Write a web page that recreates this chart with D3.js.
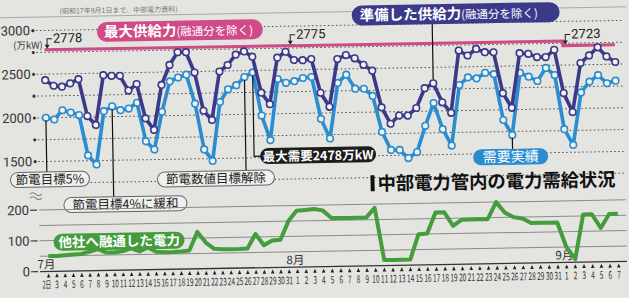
<!DOCTYPE html>
<html>
<head>
<meta charset="utf-8">
<script src="https://cdn.jsdelivr.net/npm/d3@7"></script>
<style>
  body { margin: 0; background: #e4e4e1; }
  svg { display: block; font-family: "Noto Sans CJK JP", "Noto Sans", sans-serif; }
</style>
</head>
<body>
<div id="chart"></div>
<script>
// 7/2 - 9/7 (daily)
var dayLabels = ['2日','3','4','5','6','7','8','9','10','11','12','13','14','15','16','17','18','19','20','21','22','23','24','25','26','27','28','29','30','31',
                 '1','2','3','4','5','6','7','8','9','10','11','12','13','14','15','16','17','18','19','20','21','22','23','24','25','26','27','28','29','30','31',
                 '1','2','3','4','5','6','7'];
var monthLabels = ['7月', '8月', '9月'];
var monthStart = [0, 30, 61];

// 準備した供給力 (融通分を除く), 万kW
var preparedSupply = [2431,2365,2353,2389,2436,2011,1908,2476,2467,2466,2295,2368,1973,1840,2353,2580,2724,2723,2488,2049,1942,2495,2568,2685,
                      2720,2658,2244,2111,2642,2708,2612,2608,2620,2232,2069,2615,2658,2619,2543,2474,2052,1863,1955,1953,2038,
                      2263,2317,2098,1976,2687,2629,2702,2663,2661,2191,2021,2645,2636,2597,2595,2676,2179,1960,2520,2605,2697,2590,2525];
// 需要実績, 万kW
var demand = [2000,1979,2083,2055,2024,1561,1455,2064,2118,2072,2089,2154,1711,1615,2045,2392,2435,2465,2132,1606,1473,2146,2290,2335,
              2427,2478,1982,1699,2398,2352,2369,2404,2414,1932,1706,2341,2434,2271,2269,2185,1771,1563,1561,1466,1533,
              1832,2092,1790,1601,2293,2378,2365,2427,2410,1883,1709,2420,2374,2323,2471,2387,1766,1584,2183,2305,2378,2283,2311];
// 最大供給力 (融通分を除く): value and first day index of each period
var maxSupply = [2778, 2775, 2723];
var maxSupplyFrom = [0, 30, 61];
// 他社へ融通した電力, 万kW
var interchange = [50,50,52,54,55,62,70,58,58,62,70,60,72,58,56,56,57,60,120,85,
                   64,62,62,62,63,110,73,88,90,150,183,185,188,183,158,157,157,157,157,188,
                   18,18,18,18,100,102,170,170,125,145,145,145,145,200,165,150,145,130,130,130,130,50,10,155,155,110,155,155];

var topTicks = [3000, 2500, 2000, 1500];
var topGrid = [3000, 2750, 2500, 2250, 2000, 1750, 1500, 1250];
var bottomTicks = [200, 100, 0];
var bottomGrid = [200, 150, 100, 50];

var W = 629, H = 298;
var cDark = '#3b3a8a', cLight = '#2b8dd0', cPink = '#cf4a86', cGreen = '#449c3c';

var xScale = d3.scaleLinear().domain([0, 30, 67]).range([46.5, 295.5, 616.7]);
var yTop = d3.scaleLinear().domain([1500, 3000]).range([156.5, 25.5]);
var yBot = d3.scaleLinear().domain([0, 200]).range([266.5, 205]);

var svg = d3.select('#chart').append('svg').attr('width', W).attr('height', H);
svg.append('rect').attr('width', W).attr('height', H).attr('fill', '#e4e4e1');

// the original is a slightly tilted photo of a newspaper graphic
var g = svg.append('g').attr('transform', 'rotate(-1,330,150)');

// header rule and source note
g.append('line').attr('x1', 0).attr('x2', W).attr('y1', 12).attr('y2', 12).attr('stroke', '#999').attr('stroke-width', 0.8);
g.append('text').attr('x', 62).attr('y', 9).attr('font-size', 7).attr('fill', '#777').text('(昭和17年9月1日まで、中部電力資料)');

// ---- upper panel grid ----
g.selectAll('.tgrid').data(topGrid).join('line')
  .attr('x1', 38).attr('x2', 625)
  .attr('y1', d => yTop(d)).attr('y2', d => yTop(d))
  .attr('stroke', '#555').attr('stroke-width', 1).attr('stroke-dasharray', '1.6,2.4');
g.selectAll('.tdot').data(topGrid.slice(0, 7)).join('circle')
  .attr('cx', 35).attr('cy', d => yTop(d)).attr('r', 1.6).attr('fill', '#333');
g.selectAll('.tlab').data(topTicks).join('text')
  .attr('x', 32).attr('y', d => yTop(d) + 4.5)
  .attr('text-anchor', 'end').attr('font-size', 13).attr('fill', '#333')
  .attr('font-family', 'Liberation Sans Narrow, Roboto, sans-serif')
  .text(d => d);
g.append('text').attr('x', 15).attr('y', 43.5).attr('font-size', 9.5).attr('fill', '#333').text('(万kW)');

// ---- max supply (pink step line) ----
var pinkPts = maxSupply.map((v, k) => [maxSupplyFrom[k], v]).concat([[67, maxSupply[maxSupply.length - 1]]]);
g.append('path').datum(pinkPts)
  .attr('d', d3.line().x(d => xScale(d[0])).y(d => yTop(d[1])).curve(d3.curveStepAfter))
  .attr('fill', 'none').attr('stroke', cPink).attr('stroke-width', 3);

// value callouts with small arrows
var calloutAt = [0.3, 29.6, 61.3];
maxSupply.forEach(function(v, k) {
  var x = xScale(calloutAt[k]), y = yTop(v);
  g.append('path').attr('d', 'M' + (x + 5) + ',' + (y - 11) + 'H' + x + 'V' + (y - 3))
    .attr('fill', 'none').attr('stroke', '#222').attr('stroke-width', 1);
  g.append('path').attr('d', 'M' + (x - 2.5) + ',' + (y - 5) + 'L' + (x + 2.5) + ',' + (y - 5) + 'L' + x + ',' + (y - 1) + 'Z').attr('fill', '#222');
  g.append('text').attr('x', x + 6).attr('y', y - 7).attr('font-size', 13).attr('fill', '#222')
    .attr('font-family', 'Liberation Sans Narrow, Roboto, sans-serif').text(v);
});

// ---- supply & demand lines ----
var lineGen = d3.line().x((d, i) => xScale(i)).y(d => yTop(d));
[[demand, cLight], [preparedSupply, cDark]].forEach(function(s) {
  g.append('path').datum(s[0]).attr('d', lineGen)
    .attr('fill', 'none').attr('stroke', s[1]).attr('stroke-width', 3.6).attr('stroke-linejoin', 'round');
  g.append('g').selectAll('circle').data(s[0]).join('circle')
    .attr('cx', (d, i) => xScale(i)).attr('cy', d => yTop(d)).attr('r', 3.3)
    .attr('fill', '#f3f3f1').attr('stroke', s[1]).attr('stroke-width', 1.6);
});

// ---- labels ----
function pill(x, y, w, h, fill, stroke) {
  g.append('rect').attr('x', x).attr('y', y).attr('width', w).attr('height', h)
    .attr('rx', h / 2).attr('fill', fill).attr('stroke', stroke || 'none').attr('stroke-width', 1);
}
function pointer(pts) {
  g.append('path').attr('d', d3.line()(pts)).attr('fill', 'none').attr('stroke', '#111').attr('stroke-width', 1.2);
}

// 最大供給力
pill(99, 18, 166, 20, cPink);
var t1 = g.append('text').attr('x', 106).attr('y', 33).attr('fill', '#fff');
t1.append('tspan').attr('font-size', 14.5).attr('font-weight', 'bold').text('最大供給力');
t1.append('tspan').attr('font-size', 11.5).text('(融通分を除く)');

// 準備した供給力
pointer([[xScale(46), yTop(preparedSupply[46]) - 4], [xScale(46), 24]]);
pill(354, 6, 208, 20, cDark);
var t2 = g.append('text').attr('x', 362).attr('y', 21).attr('fill', '#fff');
t2.append('tspan').attr('font-size', 14.5).attr('font-weight', 'bold').text('準備した供給力');
t2.append('tspan').attr('font-size', 11.5).text('(融通分を除く)');

// 節電目標5%
pointer([[xScale(0), yTop(demand[0]) + 3], [xScale(0), 168]]);
pill(10, 167, 79, 15, '#efefed', '#666');
g.append('text').attr('x', 49.5).attr('y', 179).attr('text-anchor', 'middle').attr('font-size', 12.5).attr('fill', '#222').text('節電目標5%');

// 節電目標4%に緩和
pointer([[xScale(8), yTop(demand[8]) + 3], [xScale(8), 194]]);
pill(63, 193, 123, 15, '#efefed', '#666');
g.append('text').attr('x', 124.5).attr('y', 205).attr('text-anchor', 'middle').attr('font-size', 12.5).attr('fill', '#222').text('節電目標4%に緩和');

// 節電数値目標解除
pointer([[xScale(24), yTop(demand[24]) + 3], [xScale(24), 170]]);
pill(157, 169, 117, 15, '#efefed', '#666');
g.append('text').attr('x', 215.5).attr('y', 181).attr('text-anchor', 'middle').attr('font-size', 12.5).attr('fill', '#222').text('節電数値目標解除');

// 最大需要
pointer([[xScale(25), yTop(demand[25]) + 3], [xScale(25), 155], [262, 155]]);
pill(260, 147, 116, 16, '#1c1c1c');
g.append('text').attr('x', 318).attr('y', 160).attr('text-anchor', 'middle').attr('font-size', 12.5).attr('font-weight', 'bold').attr('fill', '#fff').text('最大需要2478万kW');

// 需要実績
pointer([[xScale(55), yTop(demand[55]) + 3], [xScale(55), 153]]);
pill(473, 152, 75, 16, cLight);
g.append('text').attr('x', 510.5).attr('y', 165).attr('text-anchor', 'middle').attr('font-size', 14).attr('fill', '#fff').text('需要実績');

// title
g.append('rect').attr('x', 370).attr('y', 176).attr('width', 4).attr('height', 16).attr('fill', '#111');
g.append('text').attr('x', 377).attr('y', 191).attr('font-size', 18.5).attr('font-weight', 'bold').attr('fill', '#111')
  .attr('textLength', 238).attr('lengthAdjust', 'spacingAndGlyphs').text('中部電力管内の電力需給状況');

// ---- lower panel ----
g.append('path').attr('d', 'M29,189q3,-3 6,0t6,0M29,193q3,-3 6,0t6,0').attr('fill', 'none').attr('stroke', '#777').attr('stroke-width', 1);

g.selectAll('.bgrid').data(bottomGrid).join('line')
  .attr('x1', 38).attr('x2', 625)
  .attr('y1', d => yBot(d)).attr('y2', d => yBot(d))
  .attr('stroke', '#8a8a8a').attr('stroke-width', 1);
g.append('line').attr('x1', 38).attr('x2', 625).attr('y1', yBot(0)).attr('y2', yBot(0)).attr('stroke', '#333').attr('stroke-width', 1.4);
g.selectAll('.blab').data(bottomTicks).join('text')
  .attr('x', 28).attr('y', d => yBot(d) + 4.5)
  .attr('text-anchor', 'end').attr('font-size', 13).attr('fill', '#333')
  .attr('font-family', 'Liberation Sans Narrow, Roboto, sans-serif')
  .text(d => d);
g.selectAll('.bdot').data(bottomTicks).join('line')
  .attr('x1', 29).attr('x2', 36).attr('y1', d => yBot(d)).attr('y2', d => yBot(d))
  .attr('stroke', '#333').attr('stroke-width', 1.2);

// day ticks (small triangles) and condensed labels
g.append('g').selectAll('path').data(dayLabels).join('path')
  .attr('d', (d, i) => { var x = xScale(i), y = yBot(0) + 2; return 'M' + (x - 1.8) + ',' + (y + 4) + 'L' + (x + 1.8) + ',' + (y + 4) + 'L' + x + ',' + y + 'Z'; })
  .attr('fill', '#222');
g.append('g').selectAll('text').data(dayLabels).join('text')
  .attr('transform', (d, i) => 'translate(' + (xScale(i) - (i === 0 ? 2 : 0)) + ',' + (yBot(0) + 17) + ') scale(' + (i === 0 ? 0.55 : 0.62) + ',1)')
  .attr('text-anchor', 'middle').attr('font-size', 10.5).attr('fill', '#333')
  .text(d => d);
g.append('g').selectAll('text').data(monthLabels).join('text')
  .attr('x', (d, i) => xScale(monthStart[i]) - 2).attr('y', yBot(0) - 3)
  .attr('text-anchor', 'middle').attr('font-size', 11.5).attr('fill', '#333')
  .text(d => d);

// interchange line
g.append('path').datum(interchange)
  .attr('d', d3.line().x((d, i) => xScale(i)).y(d => yBot(d)))
  .attr('fill', 'none').attr('stroke', cGreen).attr('stroke-width', 4).attr('stroke-linejoin', 'round');

pill(52, 229, 131, 17, cGreen);
g.append('text').attr('x', 117.5).attr('y', 242.5).attr('text-anchor', 'middle').attr('font-size', 13.5).attr('font-weight', 'bold').attr('fill', '#fff').text('他社へ融通した電力');
</script>
</body>
</html>
